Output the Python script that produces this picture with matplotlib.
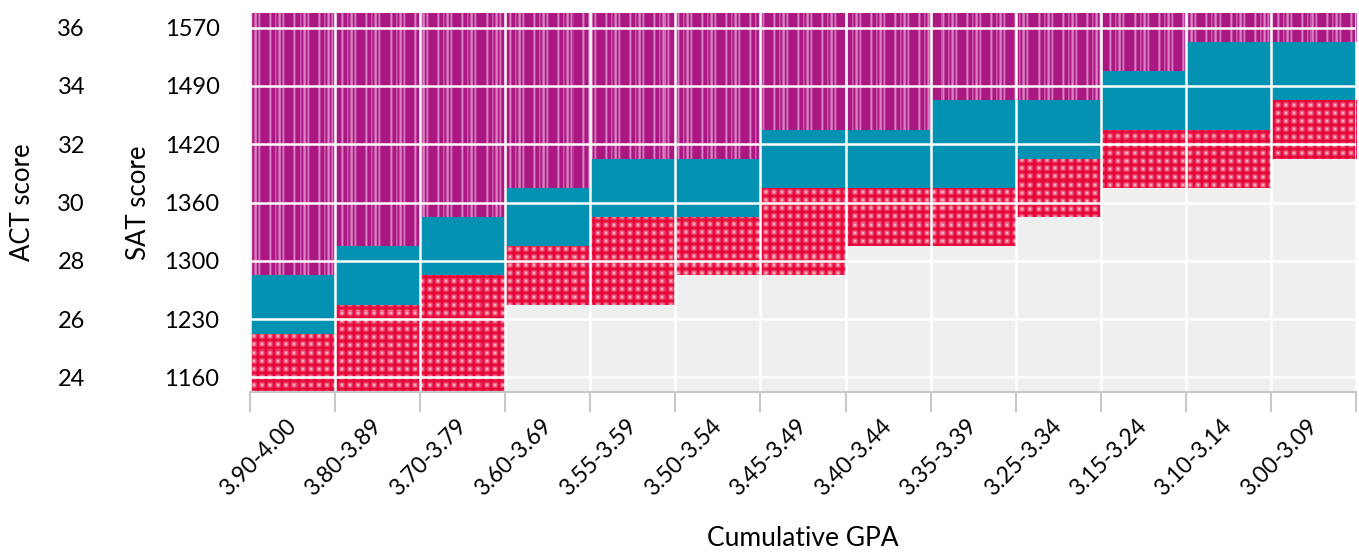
import numpy as np
import matplotlib
matplotlib.use("Agg")
import matplotlib.pyplot as plt

# ---------------- data ----------------
gpa_bins = ['3.90-4.00', '3.80-3.89', '3.70-3.79', '3.60-3.69', '3.55-3.59', '3.50-3.54',
            '3.45-3.49', '3.40-3.44', '3.35-3.39', '3.25-3.34', '3.15-3.24', '3.10-3.14', '3.00-3.09']
# ACT-scale band boundaries per GPA bin
grey_top = [23.5, 23.5, 23.5, 26.5, 26.5, 27.5, 27.5, 28.5, 28.5, 29.5, 30.5, 30.5, 31.5]
red_top = [25.5, 26.5, 27.5, 28.5, 29.5, 29.5, 30.5, 30.5, 30.5, 31.5, 32.5, 32.5, 33.5]
teal_top = [27.5, 28.5, 29.5, 30.5, 31.5, 31.5, 32.5, 32.5, 33.5, 33.5, 34.5, 35.5, 35.5]
act_ticks = [24, 26, 28, 30, 32, 34, 36]
sat_labels = ['1160', '1230', '1300', '1360', '1420', '1490', '1570']
y_min, y_max = 23.5, 36.5

FONT = 'Lato'
plt.rcParams['font.family'] = [FONT, 'DejaVu Sans']

W, H = 1359, 552
fig = plt.figure(figsize=(W / 100, H / 100), dpi=100)
ax_l, ax_r, ax_t, ax_b = 250, 1356, 13, 392
ax = fig.add_axes([ax_l / W, 1 - ax_b / H, (ax_r - ax_l) / W, (ax_b - ax_t) / H])

# ---------------- textures ----------------
tw, th = ax_r - ax_l, ax_b - ax_t
jj, ii = np.meshgrid(np.arange(tw), np.arange(th))

# red dotted texture
red_base = np.array([230, 6, 56]) / 255
red_hi = np.array([252, 214, 224]) / 255
dx = np.abs((jj % 8) - 3.5)
dy = np.abs((ii % 8) - 3.5)
rr = 0.5 * np.sqrt(dx ** 2 + dy ** 2) / 4.0 + 0.5 * np.maximum(dx, dy) / 4.0
t = np.clip(1 - rr, 0, 1) ** 1.4
red_tex = red_base[None, None, :] * (1 - t[..., None]) + red_hi[None, None, :] * t[..., None]

# purple striped texture
pur_base = np.array([172, 24, 130]) / 255
pur_hi = np.array([218, 128, 196]) / 255
profile = np.array([0.0, 0.6, 1.0, 0.4, 0.0, 0.0, 0.0, 0.7, 0.3, 0.0, 0.6, 1.0,
                    0.8, 0.0, 0.5, 0.9, 0.3, 0.0, 0.0, 0.0, 0.0, 0.0, 0.0, 0.0])
s = profile[(jj + 6) % 24]
pur_tex = pur_base[None, None, :] * (1 - s[..., None]) + pur_hi[None, None, :] * s[..., None]

x = np.arange(len(gpa_bins))
extent = (-0.5, len(gpa_bins) - 0.5, y_min, y_max)

grey_h = [g - y_min for g in grey_top]
red_h = [rt - g for rt, g in zip(red_top, grey_top)]
teal_h = [tt - rt for tt, rt in zip(teal_top, red_top)]
pur_h = [y_max - tt for tt in teal_top]

ax.bar(x, grey_h, bottom=y_min, width=1.0, color='#efefef', linewidth=0, zorder=1)
red_bars = ax.bar(x, red_h, bottom=grey_top, width=1.0, color='#e8083a', linewidth=0, zorder=1)
ax.bar(x, teal_h, bottom=red_top, width=1.0, color='#0492b2', linewidth=0, zorder=1)
pur_bars = ax.bar(x, pur_h, bottom=teal_top, width=1.0, color='#ac1882', linewidth=0, zorder=1)

for bars, tex in ((red_bars, red_tex), (pur_bars, pur_tex)):
    for b in bars:
        im = ax.imshow(tex, extent=extent, origin='upper', interpolation='nearest',
                       aspect='auto', zorder=1.5)
        im.set_clip_path(b)

ax.set_xlim(-0.5, len(gpa_bins) - 0.5)
ax.set_ylim(y_min, y_max)

# grid lines (white, on top)
for yv in act_ticks:
    ax.axhline(yv, color='white', lw=1.8, zorder=3)
for xv in np.arange(-0.5, len(gpa_bins) + 0.5, 1.0):
    ax.axvline(xv, color='white', lw=1.8, zorder=3)

# x ticks: marks at boundaries, labels at centers
ax.set_xticks(np.arange(-0.5, len(gpa_bins) + 0.5, 1.0))
ax.set_xticklabels([])
ax.tick_params(axis='x', which='major', length=14.5, width=1.5, color='#c8c8c8')
ax.set_xticks(x, minor=True)
ax.set_xticklabels(gpa_bins, minor=True, rotation=45, ha='right', va='center',
                   rotation_mode='anchor', fontsize=16.5)
ax.tick_params(axis='x', which='minor', length=0, pad=22)

# y: SAT labels on main axis
ax.set_yticks(act_ticks)
ax.set_yticklabels(sat_labels, fontsize=17)
ax.tick_params(axis='y', length=0, pad=22)

for sp in ['top', 'right', 'left']:
    ax.spines[sp].set_visible(False)
ax.spines['bottom'].set_color('#c8c8c8')
ax.spines['bottom'].set_linewidth(1.5)
ax.spines['bottom'].set_zorder(4)

# ACT axis further left
sec = ax.secondary_yaxis(-(ax_l - 85) / tw)
sec.set_yticks(act_ticks)
sec.set_yticklabels([str(v) for v in act_ticks], fontsize=17)
sec.tick_params(length=0, pad=0)
sec.spines['left'].set_visible(False)

cy = 1 - ((ax_t + ax_b) / 2) / H
fig.text(22 / W, cy, 'ACT score', rotation=90, ha='center', va='center', fontsize=18.5)
fig.text(139 / W, cy, 'SAT score', rotation=90, ha='center', va='center', fontsize=18.5)
fig.text(((ax_l + ax_r) / 2) / W, 1 - 539 / H, 'Cumulative GPA', ha='center', va='center',
         fontsize=19)

fig.savefig('out.png', dpi=100)
